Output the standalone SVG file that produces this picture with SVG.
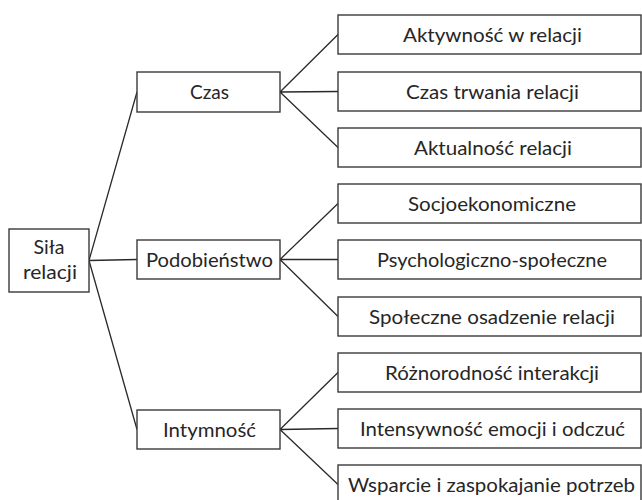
<svg xmlns="http://www.w3.org/2000/svg" width="642" height="500" viewBox="0 0 642 500">
<style>
.box{fill:#fff;stroke:#3a3a3a;stroke-width:1.4}
.lbl{font-family:Lato,"Open Sans","Liberation Sans",sans-serif;font-size:20px;fill:#262626;text-anchor:middle}
.con{stroke:#2a2a2a;stroke-width:1.3;fill:none}
</style>
<rect width="642" height="500" fill="#fff"/>
<g id="connectors" class="con">
<path d="M89,260.5L137,92M89,260.5L137,259.5M89,260.5L137,429.5"/>
<path d="M280,92L338,34.5M280,92L338,91.5M280,92L338,147.5"/>
<path d="M280,259.5L338,203.5M280,259.5L338,259.5M280,259.5L338,316.5"/>
<path d="M280,429.5L338,372.5M280,429.5L338,428.5M280,429.5L338,484.5"/>
</g>
<g id="sila"><rect class="box" x="9" y="229" width="80" height="63"/><text class="lbl" x="49" y="254" textLength="31" lengthAdjust="spacingAndGlyphs">Siła</text><text class="lbl" x="50" y="279" textLength="54" lengthAdjust="spacingAndGlyphs">relacji</text></g>
<g id="czas"><rect class="box" x="137" y="72" width="143" height="40"/><text class="lbl" x="209.5" y="99" textLength="39" lengthAdjust="spacingAndGlyphs">Czas</text></g>
<g id="podobienstwo"><rect class="box" x="137" y="240" width="143" height="39"/><text class="lbl" x="209.5" y="266.5" textLength="127" lengthAdjust="spacingAndGlyphs">Podobieństwo</text></g>
<g id="intymnosc"><rect class="box" x="137" y="410" width="143" height="39"/><text class="lbl" x="209.5" y="436.5" textLength="93" lengthAdjust="spacingAndGlyphs">Intymność</text></g>
<g id="aktywnosc"><rect class="box" x="338" y="15" width="303" height="39"/><text class="lbl" x="492.5" y="41.5" textLength="179" lengthAdjust="spacingAndGlyphs">Aktywność w relacji</text></g>
<g id="czas-trwania"><rect class="box" x="338" y="72" width="303" height="39"/><text class="lbl" x="492.5" y="98.5" textLength="173" lengthAdjust="spacingAndGlyphs">Czas trwania relacji</text></g>
<g id="aktualnosc"><rect class="box" x="338" y="128" width="303" height="39"/><text class="lbl" x="493" y="154.5" textLength="158" lengthAdjust="spacingAndGlyphs">Aktualność relacji</text></g>
<g id="socjoekonomiczne"><rect class="box" x="338" y="184" width="303" height="39"/><text class="lbl" x="492" y="210.5" textLength="168" lengthAdjust="spacingAndGlyphs">Socjoekonomiczne</text></g>
<g id="psychologiczno"><rect class="box" x="338" y="240" width="303" height="39"/><text class="lbl" x="492" y="266.5" textLength="230" lengthAdjust="spacingAndGlyphs">Psychologiczno-społeczne</text></g>
<g id="osadzenie"><rect class="box" x="338" y="297" width="303" height="39"/><text class="lbl" x="492" y="323.5" textLength="246" lengthAdjust="spacingAndGlyphs">Społeczne osadzenie relacji</text></g>
<g id="roznorodnosc"><rect class="box" x="338" y="353" width="303" height="39"/><text class="lbl" x="492" y="379.5" textLength="214" lengthAdjust="spacingAndGlyphs">Różnorodność interakcji</text></g>
<g id="intensywnosc"><rect class="box" x="338" y="409" width="303" height="39"/><text class="lbl" x="492.5" y="435.5" textLength="265" lengthAdjust="spacingAndGlyphs">Intensywność emocji i odczuć</text></g>
<g id="wsparcie"><rect class="box" x="338" y="465" width="303" height="39"/><text class="lbl" x="491.5" y="491.5" textLength="287" lengthAdjust="spacingAndGlyphs">Wsparcie i zaspokajanie potrzeb</text></g>
</svg>
